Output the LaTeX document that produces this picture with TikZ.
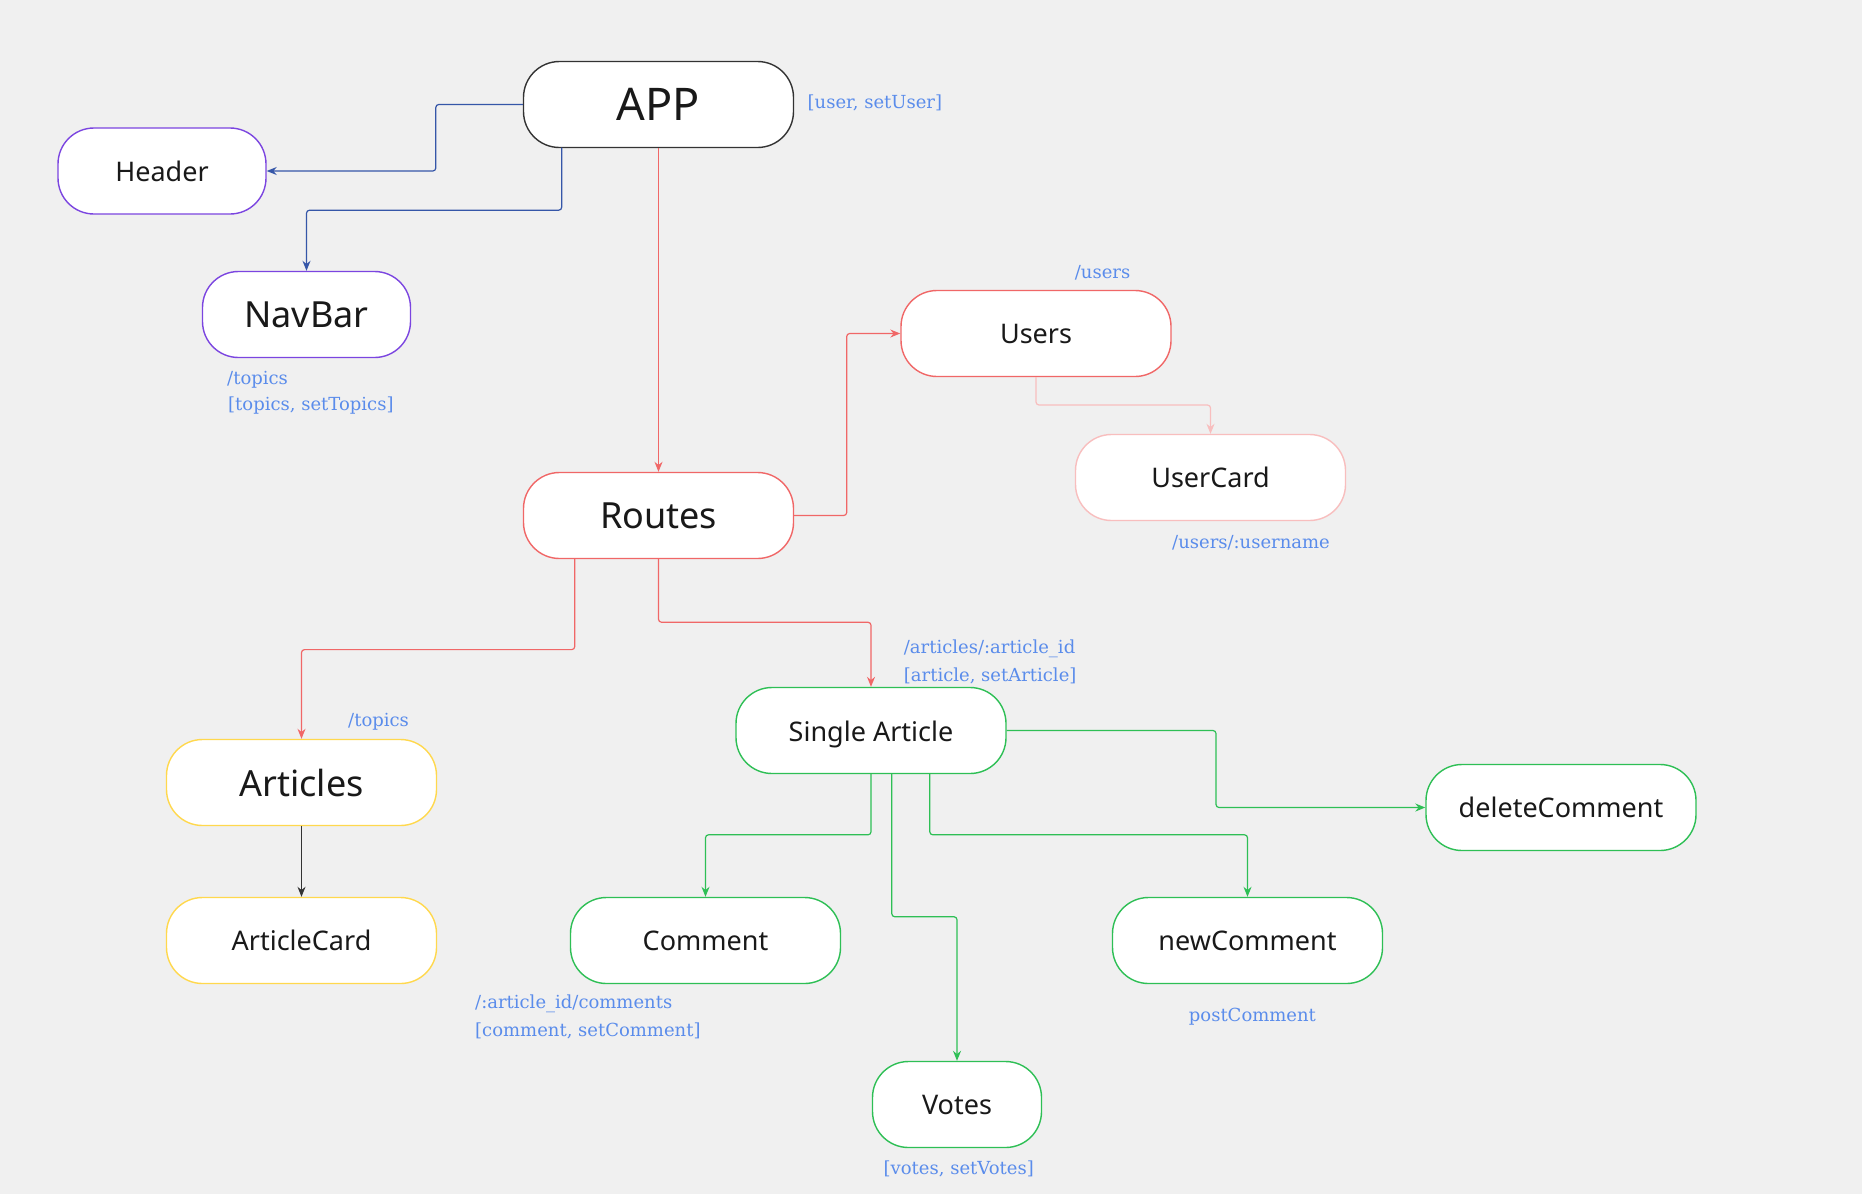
\documentclass[tikz,border=0pt]{standalone}
\usepackage{fontspec}
\setmainfont{Noto Sans}
\newfontfamily\lblfont{DejaVu Serif}
\usetikzlibrary{arrows.meta}
\definecolor{bg}{HTML}{F0F0F0}
\definecolor{appc}{HTML}{333333}
\definecolor{purp}{HTML}{7B45E0}
\definecolor{redc}{HTML}{F06767}
\definecolor{pinkc}{HTML}{F8BEBE}
\definecolor{yelc}{HTML}{FFD84D}
\definecolor{grnc}{HTML}{2EBF55}
\definecolor{bluec}{HTML}{3556A8}
\definecolor{lblc}{HTML}{5A8CEB}
\tikzset{
  box/.style={draw, fill=white, rounded corners=36pt, line width=1.4pt, minimum width=270pt, minimum height=86pt, inner sep=0pt, font=\fontsize{27}{30}\selectfont, text=black!90},
  smallbox/.style={box, minimum width=208pt},
  mid/.style={font=\fontsize{36}{40}\selectfont},
  big/.style={font=\fontsize{45}{50}\selectfont},
  conn/.style={line width=1.2pt, rounded corners=3pt, -{Stealth[length=10pt,width=8pt]}},
  lbl/.style={anchor=west, inner sep=0pt, text=lblc, font=\lblfont\fontsize{18}{20}\selectfont}
}
\begin{document}
\begin{tikzpicture}[x=1pt,y=-1pt]
\fill[bg] (0,0) rectangle (1862,1194);
\useasboundingbox (0,0) rectangle (1862,1194);

\node[box, draw=appc, big] (app) at (658.5,104.5) {APP};
\node[smallbox, draw=purp] (header) at (162,171) {Header};
\node[smallbox, draw=purp, mid] (navbar) at (306.5,314.5) {NavBar};
\node[box, draw=redc] (users) at (1036,333.5) {Users};
\node[box, draw=pinkc] (usercard) at (1210.5,477.5) {UserCard};
\node[box, draw=redc, mid] (routes) at (658.5,515.5) {Routes};
\node[box, draw=yelc, mid] (articles) at (301.5,782.5) {Articles};
\node[box, draw=yelc] (articlecard) at (301.5,940.5) {ArticleCard};
\node[box, draw=grnc] (single) at (871,730.5) {\raisebox{-4pt}[\height][\depth]{Single Article}};
\node[box, draw=grnc] (delete) at (1561,807.5) {deleteComment};
\node[box, draw=grnc] (comment) at (705.5,940.5) {Comment};
\node[box, draw=grnc] (newcomment) at (1247.5,940.5) {newComment};
\node[box, draw=grnc, minimum width=169pt] (votes) at (957,1104.5) {Votes};

% connectors
\draw[conn, bluec] (app.west) -| (435.8,171) -- (header.east);
\draw[conn, bluec] (561.7,147.5) |- (306.5,210.2) -- (navbar.north);
\draw[conn, redc] (app.south) -- (routes.north);
\draw[conn, redc] (routes.east) -| (846.7,333.5) -- (users.west);
\draw[conn, pinkc] (users.south) |- (1210.5,405) -- (usercard.north);
\draw[conn, redc] (574.75,558.5) |- (301.5,649.6) -- (articles.north);
\draw[conn, redc] (routes.south) |- (871,622.25) -- (single.north);
\draw[conn, appc] (articles.south) -- (articlecard.north);
\draw[conn, grnc] (single.east) -| (1216,807.5) -- (delete.west);
\draw[conn, grnc] (single.south) |- (705.5,834.8) -- (comment.north);
\draw[conn, grnc] (929.8,773.5) |- (1247.5,834.8) -- (newcomment.north);
\draw[conn, grnc] (891.8,773.5) |- (957,916.75) -- (votes.north);

% labels
\node[lbl] (l1) at (807.5,103.3) {[user, setUser]};
\node[lbl] (l2) at (227,380) {/topics};
\node[lbl] (l3) at (228,406) {[topics, setTopics]};
\node[lbl] (l4) at (1074.7,273) {/users};
\node[lbl] (l5) at (1172,542.7) {/users/:username};
\node[lbl] (l6) at (903.7,648.4) {/articles/:article\_id};
\node[lbl] (l7) at (903.7,675.7) {[article, setArticle]};
\node[lbl] (l8) at (348,722) {/topics};
\node[lbl] (l9) at (475,1003.4) {/:article\_id/comments};
\node[lbl] (l10) at (475,1030.75) {[comment, setComment]};
\node[lbl] (l11) at (1188.7,1016.5) {postComment};
\node[lbl] (l12) at (883.5,1168.5) {[votes, setVotes]};
\end{tikzpicture}
\end{document}
